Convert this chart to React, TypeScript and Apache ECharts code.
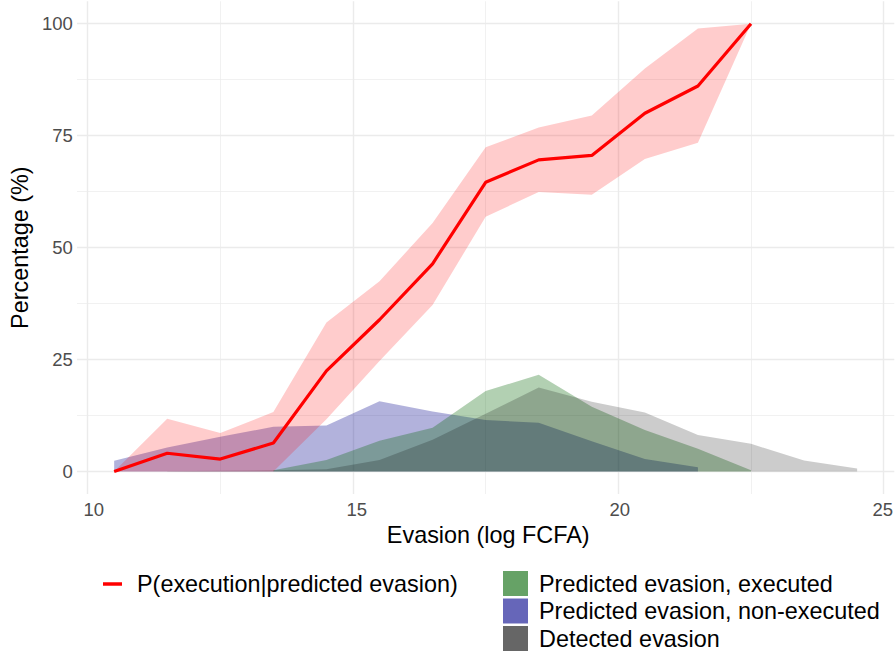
import React, { useEffect, useRef } from "react";
import * as echarts from "echarts";

// Bin midpoints (log FCFA)
const evasionBins = [10.5, 11.5, 12.5, 13.5, 14.5, 15.5, 16.5, 17.5, 18.5, 19.5, 20.5, 21.5, 22.5, 23.5, 24.5];

// P(execution | predicted evasion) and its confidence band (%)
const pExecution = [0, 4.1, 2.8, 6.4, 22.5, 33.9, 46.4, 64.6, 69.6, 70.6, 80.0, 86.1, 100, null, null];
const pLower = [0, 0, 0, 0, 11.7, 24.7, 37.2, 56.9, 62.4, 61.8, 69.8, 73.4, 100, null, null];
const pUpper = [0, 11.8, 8.6, 13.3, 33.3, 42.5, 55.5, 72.4, 76.8, 79.5, 90.0, 98.9, 100, null, null];

// Distributions (%)
const predictedExecuted = [null, null, null, 0.3, 2.6, 6.9, 9.8, 18.0, 21.6, 14.5, 9.3, 5.1, 0.3, null, null];
const predictedNonExecuted = [2.4, 5.4, 7.8, 10.0, 10.3, 15.7, 13.4, 11.5, 10.9, 6.8, 2.8, 1.0, null, null, null];
const detectedEvasion = [null, 0.1, 0.2, 0.3, 0.5, 2.6, 7.1, 12.9, 18.8, 15.6, 13.2, 8.2, 6.2, 2.5, 0.7];

// Axes
const xTicks = [10, 15, 20, 25];
const yTicks = [0, 25, 50, 75, 100];
const xMinorGrid = [12.5, 17.5, 22.5];
const yMinorGrid = [12.5, 37.5, 62.5, 87.5];

const lineName = "P(execution|predicted evasion)";
const areaNames = ["Predicted evasion, executed", "Predicted evasion, non-executed", "Detected evasion"];

export default function App() {
  const ref = useRef<HTMLDivElement>(null);

  useEffect(() => {
    document.body.style.margin = "0";
    const chart = echarts.init(ref.current!, null, { renderer: "svg" });
    const font = "'Liberation Sans', Arial, Helvetica, sans-serif";

    const toPoints = (vals: (number | null)[]) =>
      evasionBins.map((x, i) => [x, vals[i]]).filter((p) => p[1] != null);

    const gl = (axis: string, v: number, major: boolean) => ({
      [axis]: v,
      lineStyle: { color: "#EBEBEB", width: major ? 1.4 : 0.7, type: "solid" },
    });
    const gridLines = [
      ...xMinorGrid.map((v) => gl("xAxis", v, false)),
      ...yMinorGrid.map((v) => gl("yAxis", v, false)),
      ...xTicks.map((v) => gl("xAxis", v, true)),
      ...yTicks.map((v) => gl("yAxis", v, true)),
    ];

    const ribbon = evasionBins
      .map((x, i) => [x, pLower[i], pUpper[i]])
      .filter((p) => p[1] != null) as number[][];

    const areaSeries = (name: string, vals: (number | null)[], color: string) => ({
      type: "line",
      name,
      xAxisIndex: 0,
      yAxisIndex: 0,
      z: 3,
      data: toPoints(vals),
      symbol: "none",
      showSymbol: false,
      silent: true,
      lineStyle: { width: 0, color },
      itemStyle: { color },
      areaStyle: { color, opacity: 1, origin: "auto" },
    });

    const option: any = {
      animation: false,
      grid: [
        { left: 77, right: 1.7, top: 1.3, bottom: 160 },
        { left: 87.7, right: 12.3, top: 23.7, bottom: 182.3 },
      ],
      xAxis: [
        { gridIndex: 0, type: "value", min: 9.8, max: 25.2, show: false },
        {
          gridIndex: 1,
          type: "value",
          min: xTicks[0],
          max: xTicks[xTicks.length - 1],
          interval: 5,
          axisLine: { show: false },
          axisTick: { show: false },
          splitLine: { show: false },
          axisLabel: { color: "#4D4D4D", fontSize: 18.5, fontFamily: font, margin: 28 },
          name: "Evasion (log FCFA)",
          nameLocation: "middle",
          nameGap: 52,
          nameTextStyle: { color: "#000", fontSize: 23.4, fontFamily: font },
        },
      ],
      yAxis: [
        { gridIndex: 0, type: "value", min: -5, max: 105, show: false },
        {
          gridIndex: 1,
          type: "value",
          min: yTicks[0],
          max: yTicks[yTicks.length - 1],
          interval: 25,
          axisLine: { show: false },
          axisTick: { show: false },
          splitLine: { show: false },
          axisLabel: { color: "#4D4D4D", fontSize: 18.5, fontFamily: font, margin: 21 },
          name: "Percentage (%)",
          nameLocation: "middle",
          nameGap: 54,
          nameTextStyle: { color: "#000", fontSize: 23.4, fontFamily: font },
        },
      ],
      legend: [
        {
          data: [{ name: lineName, icon: "rect", itemStyle: { color: "#FF0000", borderWidth: 0 } }],
          left: 103,
          top: 572.5,
          padding: 0,
          itemWidth: 19,
          itemHeight: 3.5,
          selectedMode: false,
          itemStyle: { borderWidth: 0 },
          textStyle: { color: "#000", fontSize: 23.4, fontFamily: font, padding: [0, 0, 0, 10] },
        },
        {
          orient: "vertical",
          data: [
            { name: areaNames[0], icon: "rect", itemStyle: { color: "#66A266", borderWidth: 0 } },
            { name: areaNames[1], icon: "rect", itemStyle: { color: "#6666B9", borderWidth: 0 } },
            { name: areaNames[2], icon: "rect", itemStyle: { color: "#666666", borderWidth: 0 } },
          ],
          left: 503,
          top: 571,
          padding: 0,
          itemWidth: 25,
          itemHeight: 25,
          itemGap: 2.5,
          selectedMode: false,
          itemStyle: { borderWidth: 0 },
          textStyle: { color: "#000", fontSize: 23.4, fontFamily: font, padding: [0, 0, 0, 6] },
        },
      ],
      series: [
        {
          type: "line",
          xAxisIndex: 0,
          yAxisIndex: 0,
          z: 1,
          data: [[9.8, -5]],
          symbol: "none",
          showSymbol: false,
          silent: true,
          lineStyle: { width: 0 },
          markLine: {
            z: 1,
            silent: true,
            symbol: ["none", "none"],
            label: { show: false },
            animation: false,
            data: gridLines,
          },
        },
        areaSeries(areaNames[1], predictedNonExecuted, "rgba(0,0,139,0.3)"),
        areaSeries(areaNames[0], predictedExecuted, "rgba(0,100,0,0.3)"),
        areaSeries(areaNames[2], detectedEvasion, "rgba(0,0,0,0.2)"),
        {
          type: "custom",
          name: "band",
          xAxisIndex: 0,
          yAxisIndex: 0,
          z: 3,
          silent: true,
          data: ribbon,
          encode: { x: 0, y: [1, 2] },
          renderItem: (params: any, api: any) => {
            if (params.dataIndex !== 0) return null;
            const upper = ribbon.map((p) => api.coord([p[0], p[2]]));
            const lower = ribbon.map((p) => api.coord([p[0], p[1]])).reverse();
            return {
              type: "polygon",
              shape: { points: [...upper, ...lower] },
              style: { fill: "rgba(255,0,0,0.2)", stroke: "none" },
            };
          },
        },
        {
          type: "line",
          name: lineName,
          xAxisIndex: 0,
          yAxisIndex: 0,
          z: 4,
          data: toPoints(pExecution),
          symbol: "none",
          showSymbol: false,
          silent: true,
          lineStyle: { color: "#FF0000", width: 3.2 },
          itemStyle: { color: "#FF0000" },
        },
      ],
    };

    chart.setOption(option);
    return () => chart.dispose();
  }, []);

  return <div ref={ref} style={{ width: 896, height: 654 }} />;
}
